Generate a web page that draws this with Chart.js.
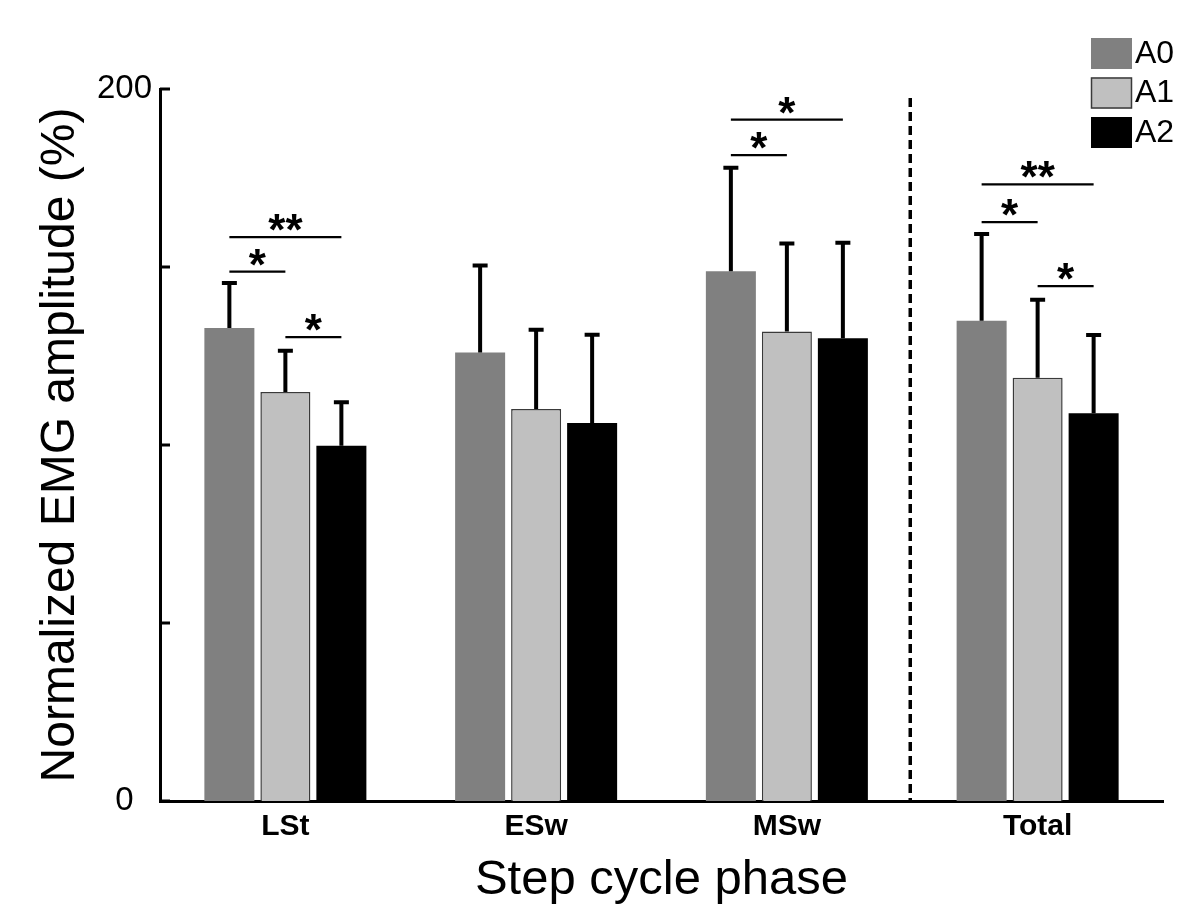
<!DOCTYPE html>
<html>
<head>
<meta charset="utf-8">
<title>Normalized EMG amplitude by step cycle phase</title>
<script src="https://cdn.jsdelivr.net/npm/chart.js@4.4.1/dist/chart.umd.min.js"></script>
<style>
  html, body { margin: 0; padding: 0; background: #fff; }
  #wrap { width: 1200px; height: 924px; }
</style>
</head>
<body>
<div id="wrap"><canvas id="emgChart" width="1200" height="924"></canvas></div>
<script>
/* ---- values ---- */
const phases      = ['LSt', 'ESw', 'MSw', 'Total'];
const seriesNames = ['A0', 'A1', 'A2'];
const a0Mean = [132.9, 126.0, 148.8, 134.9];
const a0Sd   = [12.6, 24.4, 29.1, 24.4];
const a1Mean = [114.9, 110.1, 131.9, 118.9];
const a1Sd   = [11.6, 22.3, 24.7, 21.9];
const a2Mean = [99.8, 106.2, 130.0, 108.9];
const a2Sd   = [12.2, 24.8, 26.8, 22.0];
const yTickLabels = [0, 200];

// significance brackets: [phase, from series, to series, height (%), mark]
const sigBrackets = [
  [0, 0, 2, 158.4, '**'],
  [0, 0, 1, 148.7, '*'],
  [0, 1, 2, 130.3, '*'],
  [2, 0, 2, 191.4, '*'],
  [2, 0, 1, 181.4, '*'],
  [3, 0, 2, 173.2, '**'],
  [3, 0, 1, 162.6, '*'],
  [3, 1, 2, 144.6, '*'],
];

const FONT = 'Arial, "Liberation Sans", sans-serif';

// error bars (upper half only, like the original)
const errorBars = {
  id: 'errorBars',
  afterDatasetsDraw(chart) {
    const { ctx, scales: { y } } = chart;
    ctx.save();
    ctx.strokeStyle = '#000';
    ctx.lineWidth = 4;
    chart.data.datasets.forEach((ds, i) => {
      chart.getDatasetMeta(i).data.forEach((bar, j) => {
        const top = y.getPixelForValue(ds.data[j] + ds.sd[j]);
        ctx.beginPath();
        ctx.moveTo(bar.x, bar.y);
        ctx.lineTo(bar.x, top);
        ctx.moveTo(bar.x - 7.5, top);
        ctx.lineTo(bar.x + 7.5, top);
        ctx.stroke();
      });
    });
    ctx.restore();
  }
};

// stars, dashed separator, inward tick marks, legend
const extras = {
  id: 'extras',
  afterDraw(chart) {
    const { ctx, chartArea, scales: { x, y } } = chart;
    ctx.save();

    // inward tick marks on the y axis
    ctx.strokeStyle = '#000';
    ctx.lineWidth = 3;
    y.ticks.forEach(t => {
      const py = y.getPixelForValue(t.value);
      ctx.beginPath();
      ctx.moveTo(chartArea.left, py);
      ctx.lineTo(chartArea.left + 10, py);
      ctx.stroke();
    });

    // dashed line between MSw and Total
    const dx = x.getPixelForValue(2.5) - 2;
    ctx.lineWidth = 3.5;
    ctx.setLineDash([9, 5]);
    ctx.beginPath();
    ctx.moveTo(dx, y.getPixelForValue(197.5));
    ctx.lineTo(dx, chartArea.bottom);
    ctx.stroke();
    ctx.setLineDash([]);

    // significance brackets
    ctx.lineWidth = 2.2;
    ctx.fillStyle = '#000';
    ctx.font = 'bold 44px ' + FONT;
    ctx.textAlign = 'center';
    ctx.textBaseline = 'alphabetic';
    sigBrackets.forEach(([cat, from, to, h, mark]) => {
      const x1 = chart.getDatasetMeta(from).data[cat].x;
      const x2 = chart.getDatasetMeta(to).data[cat].x;
      const py = y.getPixelForValue(h);
      ctx.beginPath();
      ctx.moveTo(x1, py);
      ctx.lineTo(x2, py);
      ctx.stroke();
      ctx.fillText(mark, (x1 + x2) / 2, py + 8);
    });

    // legend, top right
    ctx.font = '32px ' + FONT;
    ctx.textAlign = 'left';
    ctx.textBaseline = 'middle';
    chart.data.datasets.forEach((ds, i) => {
      const by = 38 + i * 39.5;
      ctx.fillStyle = ds.backgroundColor;
      ctx.fillRect(1091, by, 41, 31);
      if (ds.borderWidth) {
        ctx.strokeStyle = ds.borderColor;
        ctx.lineWidth = ds.borderWidth;
        ctx.strokeRect(1091.5, by + 0.5, 40, 30);
      }
      ctx.fillStyle = '#000';
      ctx.fillText(ds.label, 1135, by + 16);
    });

    ctx.restore();
  }
};

new Chart(document.getElementById('emgChart'), {
  type: 'bar',
  data: {
    labels: phases,
    datasets: [
      { label: seriesNames[0], data: a0Mean, sd: a0Sd, backgroundColor: '#808080', borderWidth: 0 },
      { label: seriesNames[1], data: a1Mean, sd: a1Sd, backgroundColor: '#c0c0c0', borderColor: '#3a3a3a', borderWidth: 1.5 },
      { label: seriesNames[2], data: a2Mean, sd: a2Sd, backgroundColor: '#000000', borderWidth: 0 },
    ]
  },
  options: {
    responsive: false,
    animation: false,
    layout: { padding: { top: 89, right: 37, left: 0, bottom: 0 } },
    categoryPercentage: 0.67,
    barPercentage: 0.893,
    plugins: { legend: { display: false }, tooltip: { enabled: false } },
    scales: {
      x: {
        grid: { display: false, drawTicks: false },
        border: { display: true, color: '#000', width: 3 },
        ticks: { color: '#000', padding: 8, font: { family: FONT, size: 30, weight: 'bold' } },
        title: { display: true, text: 'Step cycle phase', color: '#000', padding: { top: 0, bottom: 14 },
                 font: { family: FONT, size: 49 } },
        afterFit: s => { s.height = 123; }
      },
      y: {
        min: 0, max: 200,
        grid: { display: false, drawTicks: false },
        border: { display: true, color: '#000', width: 3 },
        ticks: {
          stepSize: 50, color: '#000', padding: 8,
          font: { family: FONT, size: 33 },
          // the "0" sits a little further left than "200" in the original
          callback: v => yTickLabels.includes(v) ? (v === 0 ? '0  ' : String(v)) : ''
        },
        title: { display: true, text: 'Normalized EMG amplitude (%)', color: '#000', padding: { top: 32, bottom: 0 },
                 font: { family: FONT, size: 48 } },
        afterFit: s => { s.width = 160; }
      }
    }
  },
  plugins: [errorBars, extras]
});
</script>
</body>
</html>
